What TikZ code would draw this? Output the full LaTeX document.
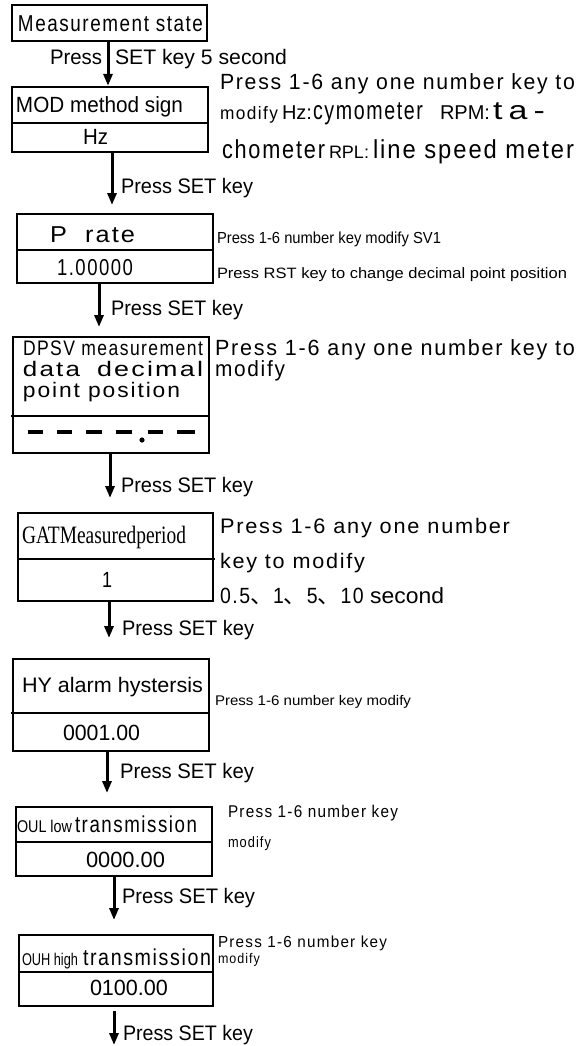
\documentclass[tikz,border=0pt]{standalone}
\usepackage{fontspec}
\usepackage{graphicx}
\usetikzlibrary{arrows.meta}
\setmainfont{Liberation Sans}
\newfontfamily\mono[FakeStretch=0.85,LetterSpace=7]{Liberation Sans}
\newfontfamily\sr{Liberation Serif}
\newfontfamily\cjk{Noto Sans CJK SC}
\newcommand\fw[2]{\resizebox{#1pt}{\height}{#2}}
\newcommand\fsz[1]{\fontsize{#1}{#1}\selectfont}
\begin{document}
\begin{tikzpicture}[x=1pt,y=-1pt,
  txt/.style={inner sep=0pt, outer sep=0pt, anchor=base west},
  boxn/.style={draw, line width=2.4pt, inner sep=0pt},
  divl/.style={line width=2.4pt},
  arr/.style={line width=3pt, -{Triangle[length=12pt,width=9pt]}},
  dsh/.style={line width=4pt}]
\fill[white] (0,0) rectangle (581,1046);
\useasboundingbox (0,0) rectangle (581,1046);

% boxes
\node[boxn, minimum width=195pt, minimum height=36pt] (b1) at (109.5,23) {};
\node[boxn, minimum width=196pt, minimum height=65pt] (b2) at (110,119.5) {};
\node[boxn, minimum width=196pt, minimum height=69pt] (b3) at (115,248.5) {};
\node[boxn, minimum width=196pt, minimum height=116pt] (b4) at (111,395) {};
\node[boxn, minimum width=195pt, minimum height=88pt] (b5) at (115.5,557) {};
\node[boxn, minimum width=196pt, minimum height=92pt] (b6) at (111,705) {};
\node[boxn, minimum width=196pt, minimum height=69pt] (b7) at (114,841.5) {};
\node[boxn, minimum width=194pt, minimum height=71pt] (b8) at (116,970.5) {};

% dividers
\draw[divl] (12,123) -- (208,123);
\draw[divl] (17,250) -- (213,250);
\draw[divl] (11,416) -- (209,416);
\draw[divl] (18,559) -- (215,559);
\draw[divl] (11,713) -- (209,713);
\draw[divl] (16,842) -- (212,842);
\draw[divl] (19,972) -- (213,972);

% arrows
\coordinate (x1) at (108,0);
\coordinate (x2) at (112,0);
\coordinate (x3) at (99,0);
\coordinate (x4) at (110,0);
\coordinate (x5) at (109,0);
\coordinate (x6) at (107,0);
\coordinate (x7) at (114,0);
\coordinate (x8) at (114,0);
\coordinate (e2) at (0,205);
\coordinate (e3) at (0,327);
\coordinate (e4) at (0,498);
\coordinate (e5) at (0,638);
\coordinate (e6) at (0,793);
\coordinate (e7) at (0,920);
\coordinate (e8) at (0,1045);
\draw[arr] (x1 |- b1.south) -- (x1 |- b2.north);
\draw[arr] (x2 |- b2.south) -- (x2 |- e2);
\draw[arr] (x3 |- b3.south) -- (x3 |- e3);
\draw[arr] (x4 |- b4.south) -- (x4 |- e4);
\draw[arr] (x5 |- b5.south) -- (x5 |- e5);
\draw[arr] (x6 |- b6.south) -- (x6 |- e6);
\draw[arr] (x7 |- b7.south) -- (x7 |- e7);
\draw[arr] ([yshift=-4pt]x8 |- b8.south) -- (x8 |- e8);

% box 1
\node[txt] (t1) at (18,31.5) {\mono\fsz{23}\fw{185}{Measurement state}};
\node[txt] (l1a) at (50,65) {\fsz{21}\fw{52}{Press}};
\node[txt] (l1b) at (115,65) {\fsz{21}\fw{172}{SET key 5 second}};

% box 2
\node[txt] (t2) at (16,113) {\fsz{22}\fw{167}{MOD method sign}};
\node[txt] (t2v) at (83,144) {\fsz{22}\fw{25}{Hz}};
\node[txt] (r2a) at (220,90) {\mono\fsz{22}\fw{355}{Press 1-6 any one number key to}};
\node[txt] (r2b) at (220,120) {\mono\fsz{18}\fw{58}{modify}};
\node[txt] (r2c) at (282,120) {\fsz{20}\fw{30}{Hz:}};
\node[txt] (r2d) at (313,120) {\mono\fsz{26}\fw{110}{cymometer}};
\node[txt] (r2e) at (440,120) {\fsz{20}\fw{50}{RPM:}};
\node[txt] (r2f) at (493,120) {\mono\fsz{26}\fw{52}{t\hspace{4pt}a\hspace{4pt}-}};
\node[txt] (r2g) at (222,158) {\mono\fsz{26}\fw{103}{chometer}};
\node[txt] (r2h) at (329,158) {\fsz{18}\fw{40}{RPL:}};
\node[txt] (r2i) at (373,158) {\mono\fsz{26}\fw{201}{line speed meter}};
\node[txt] (l2) at (121,193) {\fsz{21}\fw{132}{Press SET key}};

% box 3
\node[txt] (t3) at (50,242) {\mono\fsz{23}\fw{85}{P~~rate}};
\node[txt] (t3v) at (57,275) {\mono\fsz{23}\fw{76}{1.00000}};
\node[txt] (r3a) at (217,243) {\fsz{16}\fw{224}{Press 1-6 number key modify SV1}};
\node[txt] (r3b) at (217,278) {\fsz{15}\fw{350}{Press RST key to change decimal point position}};
\node[txt] (l3) at (111,315) {\fsz{21}\fw{132}{Press SET key}};

% box 4
\node[txt] (t4a) at (23,355) {\mono\fsz{21}\fw{180}{DPSV measurement}};
\node[txt] (t4b) at (23,376) {\mono\fsz{21}\fw{57}{data}};
\node[txt] (t4c) at (97,376) {\mono\fsz{21}\fw{106}{decimal}};
\node[txt] (t4d) at (23,397) {\mono\fsz{21}\fw{157}{point position}};
\draw[dsh] (28,432) -- (43,432);
\draw[dsh] (57,432) -- (72,432);
\draw[dsh] (86,432) -- (102,432);
\draw[dsh] (116,432) -- (132,432);
\draw[dsh] (148,432) -- (163,432);
\draw[dsh] (177,432) -- (195,432);
\fill (142,440) circle (2.6);
\node[txt] (r4a) at (215,355) {\mono\fsz{22}\fw{360}{Press 1-6 any one number key to}};
\node[txt] (r4b) at (215,376) {\mono\fsz{22}\fw{70}{modify}};
\node[txt] (l4) at (121,492) {\fsz{21}\fw{132}{Press SET key}};

% box 5
\node[txt] (t5) at (22,543) {\sr\fsz{25}\fw{164}{GATMeasuredperiod}};
\node[txt] (t5v) at (102,587) {\fsz{22}\fw{10}{1}};
\node[txt] (r5a) at (220,533) {\mono\fsz{21}\fw{290}{Press 1-6 any one number}};
\node[txt] (r5b) at (220,568) {\mono\fsz{21}\fw{145}{key to modify}};
\node[txt] (r5c) at (220,603) {\fsz{22}\fw{224}{{\mono 0.5}{\cjk 、}{\mono 1}{\cjk 、}{\mono 5}{\cjk 、}{\mono 10} second}};
\node[txt] (l5) at (122,635) {\fsz{21}\fw{132}{Press SET key}};

% box 6
\node[txt] (t6) at (22,692) {\fsz{21}\fw{181}{HY alarm hystersis}};
\node[txt] (t6v) at (63,740) {\fsz{22}\fw{77}{0001.00}};
\node[txt] (r6) at (215,705) {\fsz{14}\fw{196}{Press 1-6 number key modify}};
\node[txt] (l6) at (120,778) {\fsz{21}\fw{134}{Press SET key}};

% box 7
\node[txt] (t7a) at (17,832) {\fsz{17}\fw{55}{OUL low}};
\node[txt] (t7b) at (75,832) {\mono\fsz{23}\fw{122}{transmission}};
\node[txt] (t7v) at (86,867) {\fsz{22}\fw{79}{0000.00}};
\node[txt] (r7a) at (228,817) {\mono\fsz{17}\fw{170}{Press 1-6 number key}};
\node[txt] (r7b) at (228,847) {\mono\fsz{15}\fw{43}{modify}};
\node[txt] (l7) at (122,903) {\fsz{21}\fw{133}{Press SET key}};

% box 8
\node[txt] (t8a) at (22,965) {\fsz{17}\fw{56}{OUH high}};
\node[txt] (t8b) at (83,965) {\mono\fsz{23}\fw{128}{transmission}};
\node[txt] (t8v) at (90,995) {\fsz{22}\fw{78}{0100.00}};
\node[txt] (r8a) at (218,947) {\mono\fsz{16}\fw{169}{Press 1-6 number key}};
\node[txt] (r8b) at (218,963) {\mono\fsz{14}\fw{42}{modify}};
\node[txt] (l8) at (123,1040) {\fsz{21}\fw{130}{Press SET key}};
\end{tikzpicture}
\end{document}
